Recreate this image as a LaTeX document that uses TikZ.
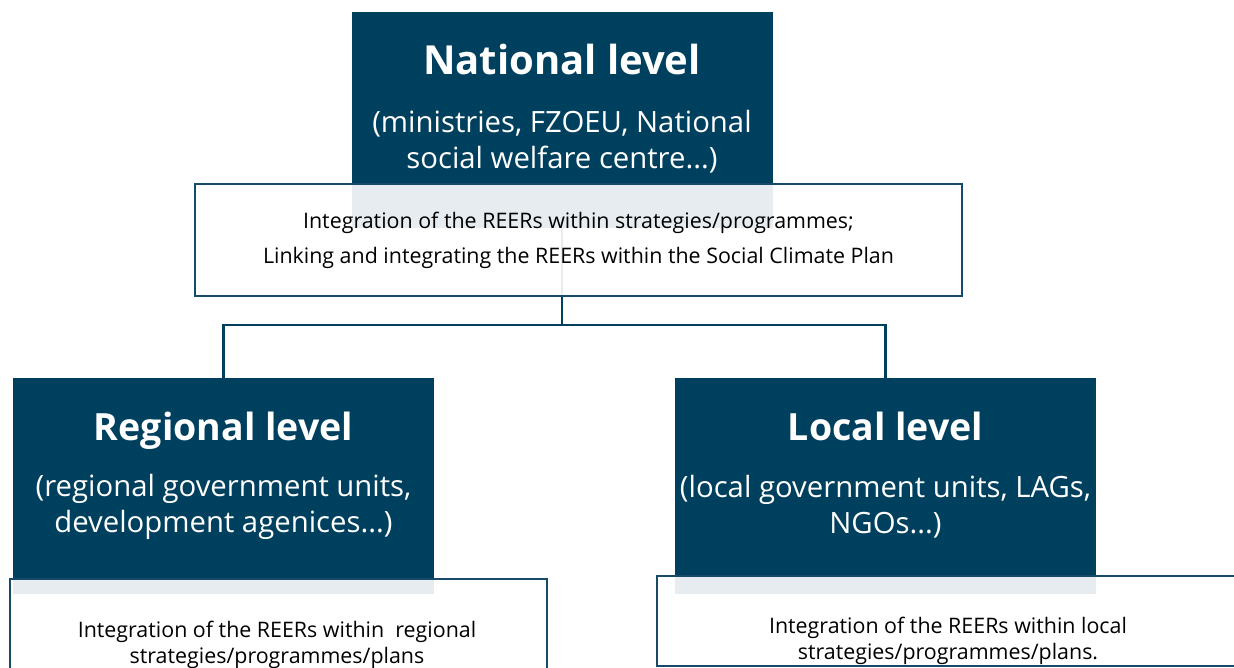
\documentclass[tikz,border=0pt]{standalone}
\usepackage{fontspec}
\setmainfont{Open Sans}
\usetikzlibrary{positioning,calc}

\definecolor{navy}{HTML}{00405F}
\definecolor{navyline}{HTML}{174A68}

\begin{document}
\begin{tikzpicture}[
  x=1pt, y=-1pt,
  level/.style={fill=navy, minimum width=421pt, minimum height=216pt, inner sep=0pt},
  task/.style={draw=navyline, line width=2.4pt, fill=white, fill opacity=0.9, text opacity=1, inner sep=0pt, align=center},
  title/.style={text=white, font=\fontsize{37.5}{44}\selectfont\bfseries},
  who/.style={text=white, align=center, font=\fontsize{29.3}{36}\selectfont},
  note/.style={align=center, font=\fontsize{21.4}{26}\selectfont},
  link/.style={draw=navy, line width=2.5pt}
]
\clip (0,0) rectangle (1234,668);
\fill[white] (0,0) rectangle (1234,668);

% Level boxes
\node[level] (nat) at (562,120) {};
\node[level] (reg) at (223.5,486) {};
\node[level] (loc) at (885.5,486) {};

% Connectors
\coordinate (fork) at (562,325);
\draw[link] (nat.south) -- (fork);
\draw[link] (fork) -| (reg.north);
\draw[link] (fork) -| (loc.north);

% Task boxes
\node[task, minimum width=767pt, minimum height=112pt,
      font=\fontsize{21.4}{37}\selectfont] (nat-task) at (578.5,240)
  {\raisebox{-2pt}{Integration of the REERs within strategies/programmes;}\\
   Linking and integrating the REERs within the Social Climate Plan};
\node[task, minimum width=537pt, minimum height=130pt] (reg-task) at (278.5,644) {};
\node[task, minimum width=583pt, minimum height=90pt] (loc-task) at (948.5,621) {};

% Titles
\node[title, anchor=base, font=\fontsize{40}{44}\selectfont\bfseries] (nat-t) at (562,75) {National level};
\node[title, anchor=base] (reg-t) at (223.5,440) {Regional level};
\node[title, anchor=base] (loc-t) at (885.5,440) {Local level};

\node[who] (nat-w) at (562,142) {(ministries, FZOEU, National\\social welfare centre...)};
\node[who] (reg-w) at (223.5,507) {(regional government units,\\development agenices...)};
\node[who] (loc-w) at (885.5,507) {(local government units, LAGs,\\NGOs...)};

% Task texts
\node[note] (reg-n) at (277,644.5) {Integration of the REERs within~ regional\\strategies/programmes/plans};
\node[note] (loc-n) at (948,641) {Integration of the REERs within local\\strategies/programmes/plans.};

\end{tikzpicture}
\end{document}
